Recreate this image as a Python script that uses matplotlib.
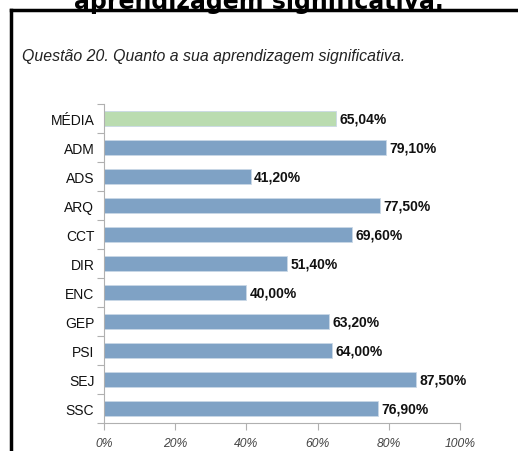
import matplotlib
matplotlib.use('Agg')
from matplotlib import pyplot as plt

categories = ['MÉDIA', 'ADM', 'ADS', 'ARQ', 'CCT', 'DIR', 'ENC', 'GEP', 'PSI', 'SEJ', 'SSC']
values = [65.04, 79.10, 41.20, 77.50, 69.60, 51.40, 40.00, 63.20, 64.00, 87.50, 76.90]
x_ticks = [0, 20, 40, 60, 80, 100]
x_labels = ['0%', '20%', '40%', '60%', '80%', '100%']

blue = '#7fa2c5'
green = '#badcb0'

W, H = 518, 452
fig = plt.figure(figsize=(W / 100, H / 100), dpi=100)
plt.rcParams['font.family'] = ['Liberation Sans', 'DejaVu Sans']

# heading cut off at the top of the picture
fig.text(0.5, 1 - 9 / H, 'aprendizagem significativa.', ha='center', va='baseline',
         fontsize=17, fontweight='bold', family='DejaVu Sans')

# black frame (only top and left visible)
fig.add_artist(plt.Line2D([11 / W, 1], [1 - 11 / H, 1 - 11 / H], color='black', lw=2.5))
fig.add_artist(plt.Line2D([11 / W, 11 / W], [0, 1 - 11 / H], color='black', lw=2.5))

fig.text(22 / W, 1 - 57 / H, 'Questão 20. Quanto a sua aprendizagem significativa.',
         fontsize=11.4, style='italic', color='#222222', va='center')

left, right, top, bottom = 104, 460, 105, 424
ax = fig.add_axes([left / W, 1 - bottom / H, (right - left) / W, (bottom - top) / H])

pos = list(range(len(categories)))
colors = [green] + [blue] * (len(categories) - 1)
ax.barh(pos, values, height=0.5, color=colors, edgecolor='#c9d8e6', linewidth=0.6)
for p, v in zip(pos, values):
    ax.text(v + 1, p, ('%.2f' % v).replace('.', ',') + '%', va='center', ha='left',
            fontsize=10, fontweight='bold', color='#111111')

ax.set_xlim(0, 100)
ax.set_ylim(len(categories) - 0.5, -0.5)
ax.set_xticks(x_ticks)
ax.set_xticklabels(x_labels, fontsize=8.7, style='italic', color='#444444')
ax.set_yticks(pos)
ax.set_yticklabels(categories, fontsize=10, color='#111111')
ax.set_yticks([p + 0.5 for p in [-1] + pos], minor=True)

ax.tick_params(axis='y', which='major', length=0, pad=7)
ax.tick_params(axis='y', which='minor', length=5, color='#b0b0b0', width=0.8)
ax.tick_params(axis='x', length=5, color='#b0b0b0', width=0.8, pad=5)

for s in ['top', 'right']:
    ax.spines[s].set_visible(False)
for s in ['left', 'bottom']:
    ax.spines[s].set_color('#b0b0b0')
    ax.spines[s].set_linewidth(0.8)

fig.savefig('out.png', dpi=100)
